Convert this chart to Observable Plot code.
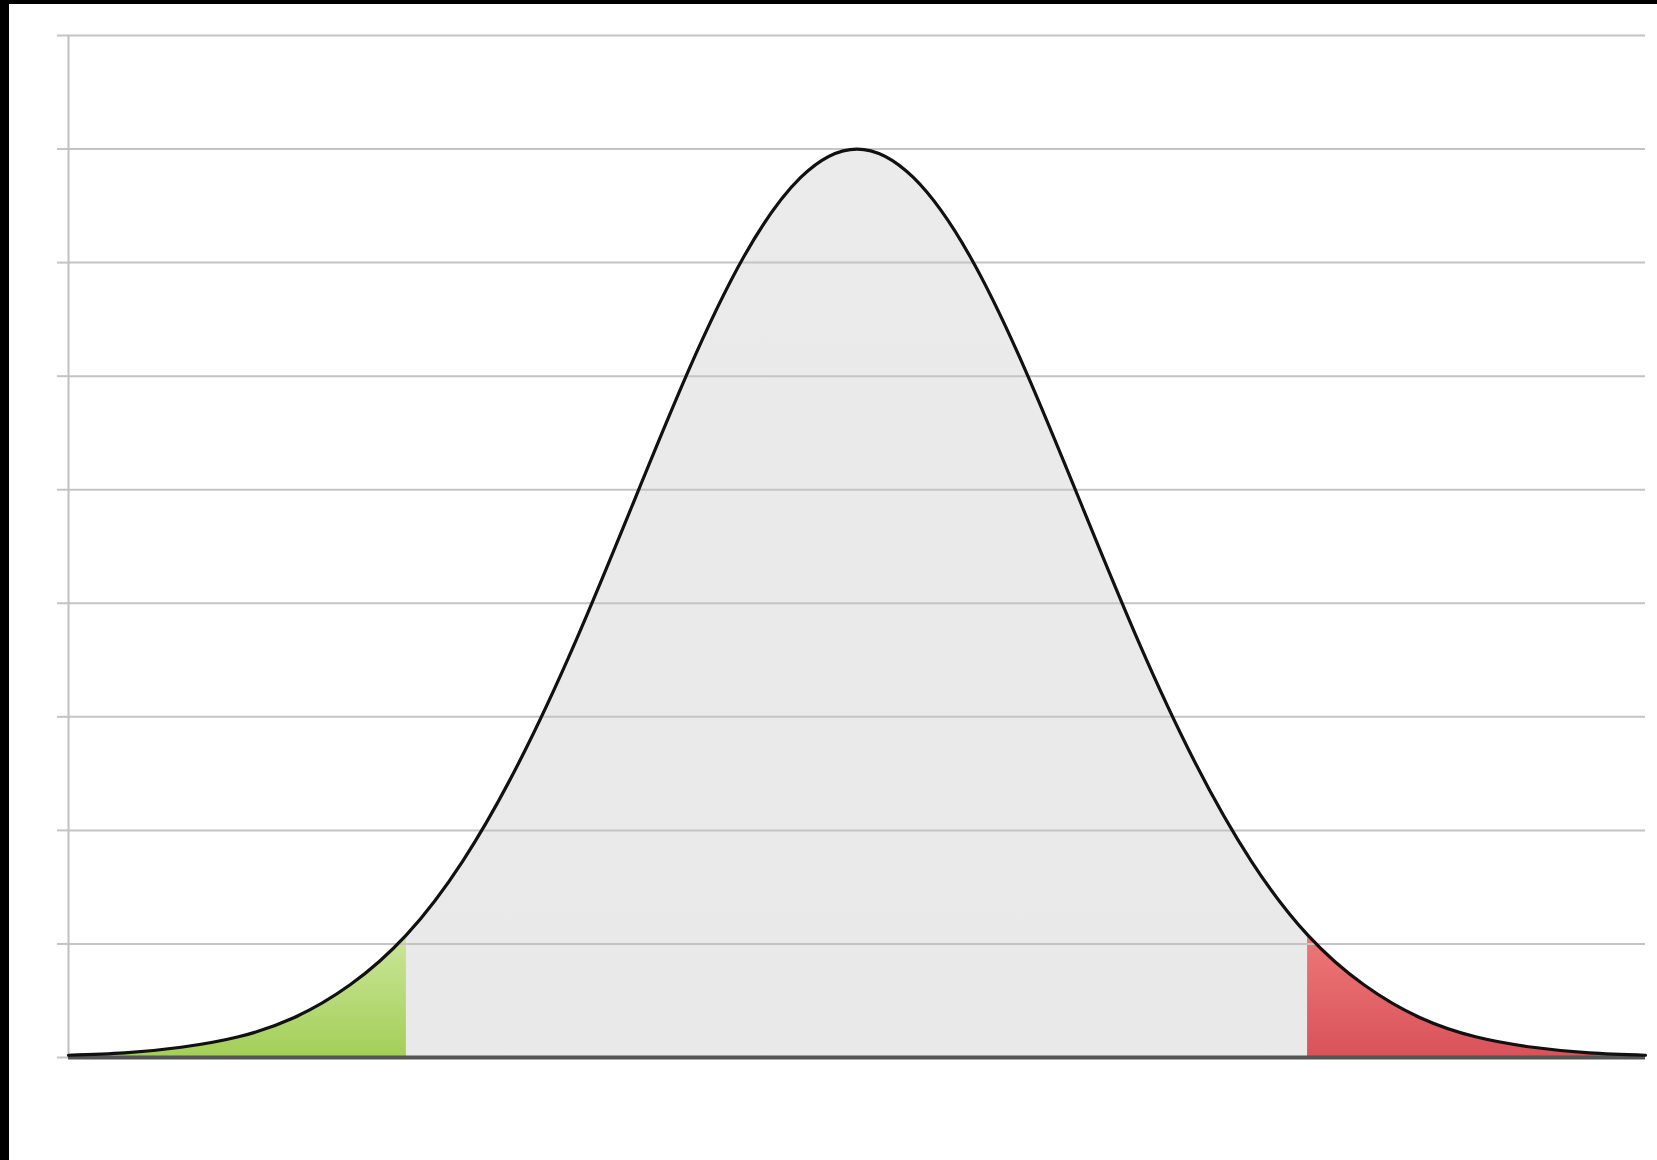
<!DOCTYPE html>
<html>
<head>
<meta charset="utf-8">
<script src="https://cdn.jsdelivr.net/npm/d3@7"></script>
<script src="https://cdn.jsdelivr.net/npm/@observablehq/plot@0.6"></script>
<style>
  html, body { margin: 0; padding: 0; background: #000; }
  #frame { position: absolute; left: 9px; top: 4px; width: 1648px; height: 1156px; background: #fff; }
</style>
</head>
<body>
<div id="frame"></div>
<script>
// Standardized positions (z) and curve heights
const zValues = [-3.5, -3.25, -3, -2.75, -2.5, -2.25, -2, -1.75, -1.5, -1.25, -1, -0.75, -0.5, -0.25, 0,
                 0.25, 0.5, 0.75, 1, 1.25, 1.5, 1.75, 2, 2.25, 2.5, 2.75, 3, 3.25, 3.5];
const heights = [0.02, 0.04, 0.09, 0.18, 0.35, 0.64, 1.08, 1.73, 2.60, 3.66, 4.85, 6.04, 7.06, 7.75, 8.00,
                 7.75, 7.06, 6.04, 4.85, 3.66, 2.60, 1.73, 1.08, 0.64, 0.35, 0.18, 0.09, 0.04, 0.02];
const gridLevels = [0, 1, 2, 3, 4, 5, 6, 7, 8, 9];
const lowerCut = -2;
const upperCut = 2;

const curve = zValues.map((z, i) => ({z, h: heights[i]}));
const leftTail = curve.filter(d => d.z <= lowerCut);
const middle = curve.filter(d => d.z >= lowerCut && d.z <= upperCut);
const rightTail = curve.filter(d => d.z >= upperCut);

function gradientDefs() {
  const ns = "http://www.w3.org/2000/svg";
  const defs = document.createElementNS(ns, "defs");
  const mk = (id, top, bottom) => {
    const g = document.createElementNS(ns, "linearGradient");
    g.setAttribute("id", id);
    g.setAttribute("x1", "0"); g.setAttribute("y1", "0");
    g.setAttribute("x2", "0"); g.setAttribute("y2", "1");
    [[0, top], [1, bottom]].forEach(([o, c]) => {
      const s = document.createElementNS(ns, "stop");
      s.setAttribute("offset", o);
      s.setAttribute("stop-color", c);
      g.appendChild(s);
    });
    defs.appendChild(g);
  };
  mk("greenTail", "#cbe69a", "#a3cf58");
  mk("redTail", "#ee7877", "#d8525a");
  mk("midFill", "#ebebeb", "#e9e9e9");
  return defs;
}

const chart = Plot.plot({
  width: 1648,
  height: 1156,
  marginLeft: 59,
  marginRight: 12,
  marginTop: 31,
  marginBottom: 103,
  x: {domain: [-3.5, 3.5], axis: null},
  y: {domain: [0, 9], axis: null, label: null},
  style: {background: "#fff", overflow: "visible"},
  marks: [
    gradientDefs,
    Plot.areaY(middle, {x: "z", y: "h", fill: "url(#midFill)", curve: "natural"}),
    Plot.areaY(leftTail, {x: "z", y: "h", fill: "url(#greenTail)", curve: "natural"}),
    Plot.areaY(rightTail, {x: "z", y: "h", fill: "url(#redTail)", curve: "natural"}),
    Plot.gridY(gridLevels.slice(1), {stroke: "#c4c4c4", strokeOpacity: 1, strokeWidth: 2}),
    Plot.axisY(gridLevels, {tickSize: 11, tickFormat: () => "", label: null, stroke: "#c4c4c4", strokeWidth: 2}),
    Plot.ruleX([-3.5], {y1: 0, y2: 9, stroke: "#c0c0c0", strokeWidth: 2}),
    Plot.ruleY([0], {stroke: "#555", strokeWidth: 4}),
    Plot.line(curve, {x: "z", y: "h", stroke: "#111", strokeWidth: 3.2, curve: "natural"})
  ]
});
document.getElementById("frame").appendChild(chart);
</script>
</body>
</html>
